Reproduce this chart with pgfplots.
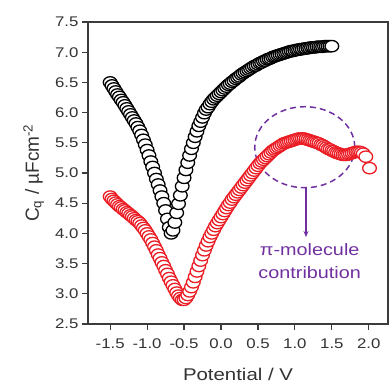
\documentclass[border=0pt]{standalone}
\usepackage{fontspec}
\setmainfont[FakeStretch=1.2]{Liberation Sans}
\newfontfamily\ylabfont{Liberation Sans}
\usepackage{pgfplots}
\pgfplotsset{compat=1.18}
\usetikzlibrary{arrows.meta}
\definecolor{cred}{RGB}{235,28,36}
\definecolor{cpurp}{RGB}{112,48,160}
\definecolor{axgray}{RGB}{60,60,60}
\begin{document}
\begin{tikzpicture}
\begin{axis}[name=ax, scale only axis, width=300pt, height=302pt,
 xmin=-1.8, xmax=2.26, ymin=2.5, ymax=7.5,
 xtick={-1.5,-1,-0.5,0,0.5,1,1.5,2},
 xticklabels={-1.5,-1.0,-0.5,0.0,0.5,1.0,1.5,2.0},
 ytick={2.5,3,3.5,4,4.5,5,5.5,6,6.5,7,7.5},
 yticklabels={2.5,3.0,3.5,4.0,4.5,5.0,5.5,6.0,6.5,7.0,7.5},
 tick align=outside, major tick length=6pt, tick pos=left,
 axis line style={axgray, line width=1.2pt},
 tick style={axgray, line width=1.2pt},
 tick label style={font=\fontsize{14}{16}\selectfont, text=black!80},
 xticklabel style={yshift=-5pt},
 xlabel={Potential / V},
 xlabel style={font=\fontsize{17}{20}\selectfont, text=black!80, yshift=-13pt},
 ylabel={C\textsubscript{q} / µFcm\textsuperscript{-2}},
 ylabel style={font=\ylabfont\fontsize{19}{22}\selectfont, text=black!80, yshift=4pt},
]
\addplot[only marks, mark=*, mark size=5.7pt, mark options={fill=white, draw=cred, line width=1.3pt, xscale=1.2}] coordinates {
(-1.500,4.61) (-1.475,4.57) (-1.450,4.54) (-1.425,4.51) (-1.400,4.48) (-1.375,4.45) (-1.350,4.43) (-1.325,4.40)
(-1.300,4.38) (-1.275,4.35) (-1.250,4.33) (-1.225,4.30) (-1.200,4.28) (-1.175,4.25) (-1.150,4.22) (-1.125,4.20)
(-1.100,4.17) (-1.075,4.13) (-1.050,4.09) (-1.025,4.05) (-1.000,4.00) (-0.975,3.95) (-0.950,3.90) (-0.925,3.84)
(-0.900,3.78) (-0.875,3.72) (-0.850,3.65) (-0.825,3.59) (-0.800,3.52) (-0.775,3.46) (-0.750,3.39) (-0.725,3.33)
(-0.700,3.26) (-0.675,3.20) (-0.650,3.14) (-0.625,3.08) (-0.600,3.02) (-0.575,2.97) (-0.550,2.93) (-0.525,2.90)
(-0.500,2.90) (-0.475,2.93) (-0.450,2.98) (-0.425,3.04) (-0.400,3.11) (-0.375,3.19) (-0.350,3.28) (-0.325,3.37)
(-0.300,3.46) (-0.275,3.55) (-0.250,3.64) (-0.225,3.72) (-0.200,3.80) (-0.175,3.87) (-0.150,3.94) (-0.125,4.00)
(-0.100,4.06) (-0.075,4.12) (-0.050,4.17) (-0.025,4.22) (0.000,4.27) (0.025,4.32) (0.050,4.37) (0.075,4.42)
(0.100,4.47) (0.125,4.51) (0.150,4.56) (0.175,4.60) (0.200,4.64) (0.225,4.68) (0.250,4.72) (0.275,4.76)
(0.300,4.80) (0.325,4.84) (0.350,4.88) (0.375,4.92) (0.400,4.96) (0.425,5.00) (0.450,5.04) (0.475,5.08)
(0.500,5.12) (0.525,5.16) (0.550,5.19) (0.575,5.22) (0.600,5.25) (0.625,5.28) (0.650,5.31) (0.675,5.34)
(0.700,5.37) (0.725,5.39) (0.750,5.41) (0.775,5.43) (0.800,5.45) (0.825,5.47) (0.850,5.49) (0.875,5.50)
(0.900,5.51) (0.925,5.52) (0.950,5.53) (0.975,5.54) (1.000,5.55) (1.025,5.56) (1.050,5.57) (1.075,5.57)
(1.100,5.57) (1.125,5.57) (1.150,5.56) (1.175,5.55) (1.200,5.54) (1.225,5.53) (1.250,5.52) (1.275,5.51)
(1.300,5.50) (1.325,5.49) (1.350,5.47) (1.375,5.46) (1.400,5.44) (1.425,5.42) (1.450,5.40) (1.475,5.39)
(1.500,5.37) (1.525,5.36) (1.550,5.34) (1.575,5.33) (1.600,5.32) (1.625,5.31) (1.650,5.30) (1.675,5.30)
(1.700,5.30) (1.725,5.31) (1.750,5.32) (1.775,5.33) (1.800,5.34) (1.825,5.35) (1.850,5.35) (1.875,5.35)
(1.900,5.34) (1.925,5.32) (1.960,5.27) (2.010,5.08)
};
\addplot[only marks, mark=*, mark size=5.7pt, mark options={fill=white, draw=black, line width=1.3pt, xscale=1.2}] coordinates {
(-1.500,6.50) (-1.475,6.45) (-1.450,6.40) (-1.425,6.35) (-1.400,6.30) (-1.375,6.26) (-1.350,6.21) (-1.325,6.17)
(-1.300,6.12) (-1.275,6.07) (-1.250,6.02) (-1.225,5.97) (-1.200,5.92) (-1.175,5.87) (-1.150,5.82) (-1.125,5.76)
(-1.100,5.70) (-1.075,5.63) (-1.050,5.55) (-1.025,5.47) (-1.000,5.38) (-0.975,5.29) (-0.950,5.19) (-0.925,5.10)
(-0.900,5.00) (-0.875,4.90) (-0.850,4.81) (-0.825,4.71) (-0.800,4.61) (-0.775,4.50) (-0.750,4.38) (-0.725,4.24)
(-0.700,4.10) (-0.675,4.00) (-0.650,4.05) (-0.625,4.18) (-0.600,4.34) (-0.575,4.49) (-0.550,4.63) (-0.525,4.78)
(-0.500,4.92) (-0.475,5.05) (-0.450,5.17) (-0.425,5.29) (-0.400,5.40) (-0.375,5.50) (-0.350,5.60) (-0.325,5.69)
(-0.300,5.78) (-0.275,5.85) (-0.250,5.92) (-0.225,5.99) (-0.200,6.05) (-0.175,6.09) (-0.150,6.14) (-0.125,6.18)
(-0.100,6.22) (-0.075,6.25) (-0.050,6.28) (-0.025,6.31) (0.000,6.34) (0.025,6.37) (0.050,6.40) (0.075,6.43)
(0.100,6.46) (0.125,6.48) (0.150,6.51) (0.175,6.53) (0.200,6.56) (0.225,6.58) (0.250,6.60) (0.275,6.63)
(0.300,6.65) (0.325,6.67) (0.350,6.69) (0.375,6.71) (0.400,6.73) (0.425,6.75) (0.450,6.77) (0.475,6.78)
(0.500,6.80) (0.525,6.82) (0.550,6.83) (0.575,6.85) (0.600,6.86) (0.625,6.88) (0.650,6.89) (0.675,6.90)
(0.700,6.92) (0.725,6.93) (0.750,6.94) (0.775,6.95) (0.800,6.96) (0.825,6.97) (0.850,6.98) (0.875,6.99)
(0.900,7.00) (0.925,7.01) (0.950,7.02) (0.975,7.02) (1.000,7.03) (1.025,7.04) (1.050,7.04) (1.075,7.05)
(1.100,7.05) (1.125,7.06) (1.150,7.06) (1.175,7.07) (1.200,7.07) (1.225,7.08) (1.250,7.08) (1.275,7.08)
(1.300,7.09) (1.325,7.09) (1.350,7.09) (1.375,7.09) (1.400,7.10) (1.425,7.10) (1.450,7.10) (1.475,7.10)
(1.500,7.10)
};
\draw[cpurp, line width=1.5pt, dash pattern=on 6pt off 4pt] (axis cs:1.133,5.427) ellipse [x radius=50pt, y radius=40.5pt];
\draw[cpurp, line width=1.3pt, -{Stealth[length=6pt,width=5pt]}] (axis cs:1.15,4.755) -- (axis cs:1.15,3.94);
\node[cpurp, align=center, font=\fontsize{16.5}{23}\selectfont] at (axis cs:1.2,3.54) {π-molecule\\contribution};
\end{axis}
\pgfresetboundingbox
\path (ax.south west) ++(-88pt,-61pt) rectangle ++(389pt,385pt);
\end{tikzpicture}
\end{document}
